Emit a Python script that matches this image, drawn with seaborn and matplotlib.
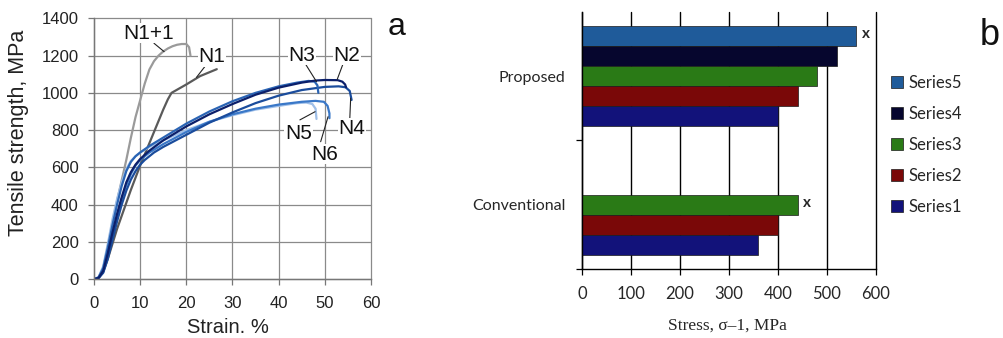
import numpy as np
import pandas as pd
import matplotlib
matplotlib.use("Agg")
import matplotlib.pyplot as plt
import seaborn as sns

# ---- panel a: tensile curves ----
N11_STRAIN = [0, 1, 2, 3, 4, 5, 6, 7, 8, 9, 10, 11, 12, 13, 14, 15, 16, 17, 18, 19, 20, 20.6, 20.9]
N11_STRESS = [0, 10, 60, 180, 300, 420, 530, 640, 760, 870, 960, 1050, 1125, 1170, 1200, 1222, 1238, 1250, 1258, 1262, 1262, 1245, 1200]

N1_STRAIN = [0, 1, 2, 3, 4, 5, 6, 7, 8, 9, 10, 11, 12, 13, 14, 15, 16, 16.8, 20, 23, 26.6]
N1_STRESS = [0, 8, 40, 110, 190, 270, 340, 410, 480, 545, 610, 670, 730, 790, 850, 910, 965, 1000, 1045, 1090, 1127]

N2_STRAIN = [0, 1, 2, 3, 4, 5, 6, 7, 8, 9, 10, 12, 15, 20, 25, 30, 35, 40, 45, 48, 50, 52.8, 53.8, 54.4, 54.6]
N2_STRESS = [0, 8, 45, 140, 250, 350, 440, 520, 575, 615, 645, 690, 745, 820, 885, 940, 990, 1028, 1055, 1066, 1069, 1068, 1060, 1045, 1030]

N3_STRAIN = [0, 1, 2, 3, 4, 5, 6, 7, 8, 9, 10, 12, 15, 20, 25, 30, 35, 40, 44, 46.5, 47.8, 48.4, 48.6]
N3_STRESS = [0, 10, 60, 170, 290, 400, 500, 580, 630, 660, 680, 715, 760, 835, 900, 955, 1000, 1035, 1055, 1064, 1060, 1040, 1000]

N4_STRAIN = [0, 1, 2, 3, 4, 5, 6, 7, 8, 9, 10, 11, 13, 15, 20, 25, 30, 35, 40, 45, 50, 53, 54.5, 55.4, 55.8]
N4_STRESS = [0, 6, 35, 110, 210, 310, 400, 475, 535, 580, 615, 640, 680, 710, 775, 840, 895, 945, 985, 1015, 1032, 1035, 1030, 1010, 962]

N5_STRAIN = [0, 1, 2, 3, 4, 5, 6, 7, 8, 9, 10, 12, 15, 20, 25, 30, 35, 40, 44, 46, 47.3, 48, 48.2]
N5_STRESS = [0, 12, 70, 190, 320, 430, 520, 590, 635, 660, 680, 710, 745, 800, 845, 880, 910, 930, 945, 948, 940, 915, 860]

N6_STRAIN = [0, 1, 2, 3, 4, 5, 6, 7, 8, 9, 10, 12, 15, 20, 25, 30, 35, 40, 45, 48, 49.8, 50.6, 51, 51]
N6_STRESS = [0, 8, 40, 130, 240, 340, 430, 505, 565, 610, 640, 680, 725, 790, 845, 885, 915, 937, 952, 957, 952, 930, 890, 864]

CURVES = {
    "N1+1": (N11_STRAIN, N11_STRESS),
    "N1": (N1_STRAIN, N1_STRESS),
    "N5": (N5_STRAIN, N5_STRESS),
    "N6": (N6_STRAIN, N6_STRESS),
    "N4": (N4_STRAIN, N4_STRESS),
    "N3": (N3_STRAIN, N3_STRESS),
    "N2": (N2_STRAIN, N2_STRESS),
}
CURVE_COLORS = {"N1+1": "#9a9a9a", "N1": "#5a5a5a", "N2": "#0b1f6a", "N3": "#2a64b4",
                "N4": "#1a4c9c", "N5": "#9fbfe8", "N6": "#3a78c8"}

# label text position, leader start, leader end (data units)
CURVE_LABELS = {
    "N1+1": ((11.8, 1320), (13.0, 1266), (15.2, 1221)),
    "N1": ((25.6, 1194), (24.3, 1150), (22.2, 1083)),
    "N3": ((45.0, 1203), (45.7, 1159), (48.2, 1060)),
    "N2": ((54.7, 1203), (54.0, 1159), (52.7, 1073)),
    "N4": ((55.8, 810), (55.4, 855), (55.6, 971)),
    "N5": ((44.3, 783), (44.6, 855), (47.9, 899)),
    "N6": ((50.0, 672), (49.1, 738), (50.7, 872)),
}

# ---- panel b: fatigue stress bars ----
GROUPS = ["Proposed", "Conventional"]
SERIES = ["Series5", "Series4", "Series3", "Series2", "Series1"]
PROPOSED = [560, 520, 480, 440, 400]          # Series5..Series1
CONVENTIONAL = [None, None, 440, 400, 360]    # Series5..Series1
BAR_COLORS = ["#1f5b9a", "#06062e", "#2a7a16", "#7a0808", "#12127a"]
MARKED = [("Proposed", "Series5"), ("Conventional", "Series3")]


def main():
    sns.set_theme(style="white")
    plt.rcParams["font.family"] = ["Liberation Sans", "DejaVu Sans"]

    fig = plt.figure(figsize=(10.04, 3.38), dpi=100)

    # ---------------- panel a ----------------
    ax = fig.add_axes([0.0936, 0.1737, 0.2759, 0.7722])
    rows = []
    for name, (xs, ys) in CURVES.items():
        for x, y in zip(xs, ys):
            rows.append({"curve": name, "strain": x, "stress": y})
    df = pd.DataFrame(rows)
    sns.lineplot(data=df, x="strain", y="stress", hue="curve", palette=CURVE_COLORS,
                 sort=False, estimator=None, legend=False, linewidth=1.6, ax=ax)

    ax.set_xlim(0, 60)
    ax.set_ylim(0, 1400)
    ax.set_xticks(range(0, 61, 10))
    ax.set_yticks(range(0, 1401, 200))
    ax.grid(True, color="#8a8a8a", linewidth=0.9)
    ax.set_axisbelow(True)
    for line in ax.get_xgridlines() + ax.get_ygridlines():
        line.set_clip_on(False)
    for side in ["top", "right"]:
        ax.spines[side].set_visible(False)
    for side in ["left", "bottom"]:
        ax.spines[side].set_color("#777777")
        ax.spines[side].set_linewidth(1.0)
    ax.tick_params(axis="both", direction="out", length=4, width=0.9, color="#777777",
                   labelsize=12, labelcolor="#222222", bottom=True, left=True)
    ax.tick_params(axis="y", pad=7)
    ax.tick_params(axis="x", pad=8)
    ax.set_xlabel("Strain. %", fontsize=14.5, color="#222222")
    ax.set_ylabel("Tensile strength, MPa", fontsize=15.5, color="#222222")
    ax.xaxis.set_label_coords(0.484, -0.15)
    ax.yaxis.set_label_coords(-0.235, 0.56)

    for name, (txt, p0, p1) in CURVE_LABELS.items():
        ax.plot([p0[0], p1[0]], [p0[1], p1[1]], color="#222222", linewidth=0.8, zorder=4)
        ax.text(txt[0], txt[1], name, fontsize=15, ha="center", va="center", color="#111111",
                zorder=5, bbox=dict(facecolor="white", edgecolor="none", pad=0.5))

    fig.text(0.395, 0.92, "a", fontsize=23, ha="center", va="center", color="#111111")

    # ---------------- panel b ----------------
    bx = fig.add_axes([0.5797, 0.204, 0.2928, 0.761])
    brows = []
    for s, v in zip(SERIES, PROPOSED):
        brows.append({"group": "Proposed", "series": s, "stress": v})
    for s, v in zip(SERIES, CONVENTIONAL):
        if v is not None:
            brows.append({"group": "Conventional", "series": s, "stress": v})
    bdf = pd.DataFrame(brows)
    sns.barplot(data=bdf, y="group", x="stress", hue="series", order=GROUPS,
                hue_order=SERIES, palette=dict(zip(SERIES, BAR_COLORS)), orient="h",
                width=0.783, errorbar=None, edgecolor="#1a1a1a", linewidth=0.5,
                saturation=1, ax=bx)

    bx.set_xlim(0, 600)
    bx.set_ylim(1.5, -0.5)
    bx.set_xticks(range(0, 601, 100))
    bx.grid(axis="x", color="black", linewidth=1.0)
    bx.grid(axis="y", visible=False)
    bx.set_axisbelow(True)
    for line in bx.get_xgridlines():
        line.set_clip_on(False)
    for side in ["top", "right"]:
        bx.spines[side].set_visible(False)
    for side in ["left", "bottom"]:
        bx.spines[side].set_color("black")
        bx.spines[side].set_linewidth(1.0)
    bx.tick_params(axis="x", direction="out", length=4, width=0.9, color="black",
                   labelsize=12, pad=8, bottom=True)
    bx.tick_params(axis="y", which="major", length=0, labelsize=11.5, pad=12)
    bx.set_yticks([0.5, 1.5], minor=True)
    bx.tick_params(axis="y", which="minor", direction="out", length=4, width=0.9,
                   color="black", left=True)
    for lab in bx.get_xticklabels() + bx.get_yticklabels():
        lab.set_family(["Lato", "DejaVu Sans"])
    bx.set_ylabel("")
    bx.set_xlabel("Stress, σ–1, MPa", fontsize=12.5, family=["Liberation Serif", "DejaVu Serif"])
    bx.xaxis.set_label_coords(0.493, -0.19)

    for (grp, ser) in MARKED:
        cont = bx.containers[SERIES.index(ser)]
        gi = GROUPS.index(grp)
        for p in cont:
            yc = p.get_y() + p.get_height() / 2
            if round(yc) == gi and p.get_width() > 0:
                bx.annotate("x", xy=(p.get_width(), yc), xytext=(4, 1),
                            textcoords="offset points", ha="left", va="center",
                            fontsize=11, fontweight="bold", family=["Lato", "DejaVu Sans"])

    sns.move_legend(bx, "center left", bbox_to_anchor=(1.05, 0.484), frameon=False,
                    title=None, labelspacing=0.9, handlelength=0.75, handleheight=0.75,
                    handletextpad=0.3, borderaxespad=0, borderpad=0,
                    prop={"family": ["Lato", "DejaVu Sans"], "size": 12})

    fig.text(0.986, 0.895, "b", fontsize=26, ha="center", va="center", color="#111111")

    fig.savefig("out.png", dpi=100)
    plt.close(fig)


if __name__ == "__main__":
    main()
